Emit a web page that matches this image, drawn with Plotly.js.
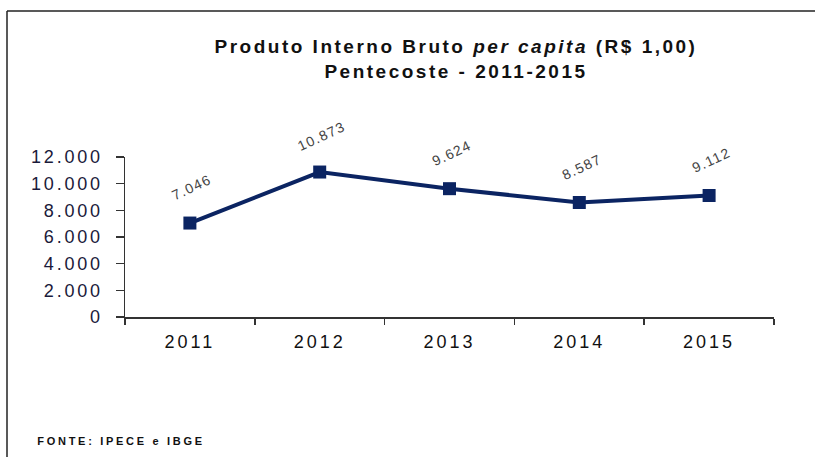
<!DOCTYPE html>
<html><head><meta charset="utf-8">
<script src="https://cdn.plot.ly/plotly-3.0.1.min.js"></script>
<style>
html,body{margin:0;padding:0;background:#fff}#chart{width:815px;height:457px}
#chart .ytick text{letter-spacing:2.8px}
#chart .xtick text{letter-spacing:3px}
#chart .annotation[data-index="0"] text,#chart .annotation[data-index="1"] text,#chart .annotation[data-index="2"] text,#chart .annotation[data-index="3"] text,#chart .annotation[data-index="4"] text{letter-spacing:1.3px}
#chart .annotation[data-index="5"] text{letter-spacing:2.5px}
#chart .annotation[data-index="6"] text{letter-spacing:2.7px}
</style>
</head><body><div id="chart"></div>
<script>
const years = ['2011','2012','2013','2014','2015'];
const pibPerCapita = [7046, 10873, 9624, 8587, 9112];
const yTicks = [0, 2000, 4000, 6000, 8000, 10000, 12000];

function fmt(v){ return String(Math.round(v)).replace(/\B(?=(\d{3})+(?!\d))/g,'.'); }

const L=125, R=774, T=157, B=317;
const px = x => (x-L)/(R-L);
const py = y => (B-y)/(B-T);

const trace = {
  x: years, y: pibPerCapita, type:'scatter', mode:'lines+markers',
  line:{color:'#0b2462', width:4},
  marker:{symbol:'square', size:13, color:'#0b2462'},
  hoverinfo:'skip', cliponaxis:false
};

const annotations = years.map((yr,i)=>({
  x: i, y: pibPerCapita[i], xref:'x', yref:'y', text: fmt(pibPerCapita[i]),
  showarrow:false, textangle:-25, yshift:36, xshift:2,
  font:{family:'Arial, Liberation Sans, sans-serif', size:14, color:'#444444'}
}));
annotations.push({
  xref:'paper', yref:'paper', x: px(456), y: py(59), xanchor:'center', yanchor:'middle',
  text:'<b>Produto Interno Bruto <i>per capita</i> (R$ 1,00)<br>Pentecoste - 2011-2015</b>',
  showarrow:false, align:'center',
  font:{family:'Arial, Liberation Sans, sans-serif', size:19, color:'#111111'}
});
annotations.push({
  xref:'paper', yref:'paper', x: px(121), y: py(441), xanchor:'center', yanchor:'middle',
  text:'<b>FONTE: IPECE e IBGE</b>', showarrow:false,
  font:{family:'Arial, Liberation Sans, sans-serif', size:11, color:'#111111'}
});

const shapes = [
  {type:'line', xref:'paper', yref:'paper', x0:px(7), x1:px(815), y0:py(11), y1:py(11), line:{color:'#222', width:1.5}},
  {type:'line', xref:'paper', yref:'paper', x0:px(7), x1:px(7), y0:py(11), y1:py(457), line:{color:'#222', width:1.5}}
];

const layout = {
  width:815, height:457, margin:{l:L, r:815-R, t:T, b:457-B},
  paper_bgcolor:'#fff', plot_bgcolor:'#fff', showlegend:false,
  separators:',.',
  xaxis:{type:'category', range:[-0.5,4.5], showgrid:false, zeroline:false,
    showline:true, linecolor:'#333', linewidth:1.5, ticks:'outside', tickson:'boundaries',
    ticklen:6, tickcolor:'#333', tickwidth:1.5, ticklabelstandoff:8,
    tickfont:{family:'Arial, Liberation Sans, sans-serif', size:18, color:'#111'}},
  yaxis:{range:[0,12000], tickvals:yTicks, ticktext:yTicks.map(fmt), showgrid:false, zeroline:false,
    showline:true, linecolor:'#333', linewidth:1.5, ticks:'outside', ticklen:8, tickcolor:'#333', tickwidth:1.5,
    ticklabelstandoff:9,
    tickfont:{family:'Arial, Liberation Sans, sans-serif', size:18, color:'#1a1a3a'}},
  annotations, shapes
};
Plotly.newPlot('chart',[trace],layout,{displayModeBar:false,staticPlot:true});
</script></body></html>
